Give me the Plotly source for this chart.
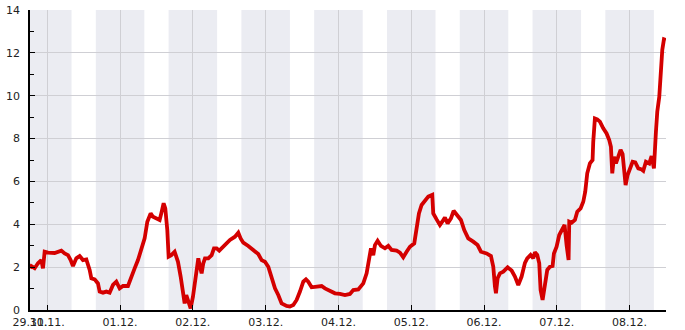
import pandas as pd
import plotly.graph_objects as go

# hours since 30.11. 00:00
hours = [-5.70, -5.26, -4.16, -3.07, -1.97, -1.42, -0.87, 0.23, 2.43, 4.63, 5.72, 6.82, 7.70, 8.47,
         9.57, 10.67, 11.77, 12.87, 13.97, 14.52, 15.62, 16.71, 17.26, 18.36, 19.46, 20.56, 21.66,
         22.76, 23.86, 24.96, 26.60, 27.70, 28.80, 29.90, 31.00, 32.10, 32.98, 34.08, 34.85, 35.94,
         37.04, 37.59, 38.36, 38.91, 39.57, 40.01, 40.89, 41.99, 43.09, 43.97, 44.74, 45.29, 45.83,
         46.38, 47.26, 48.03, 49.02, 49.79, 50.34, 50.89, 51.44, 51.99, 53.09, 54.19, 54.96, 55.84,
         56.71, 58.03, 59.13, 60.23, 61.88, 62.98, 63.75, 64.63, 66.27, 67.92, 69.57, 70.67, 71.77,
         72.87, 73.97, 75.07, 76.16, 77.26, 78.91, 80.01, 81.11, 82.21, 83.31, 84.41, 85.29, 86.05,
         87.15, 88.80, 90.45, 91.55, 93.20, 94.85, 96.50, 98.14, 99.79, 100.89, 102.54, 104.19,
         105.29, 106.06, 106.72, 107.48, 108.03, 108.91, 110.01, 111.33, 112.43, 113.53, 115.18,
         116.28, 117.37, 118.47, 119.57, 121.00, 121.77, 122.54, 123.42, 124.52, 125.62, 126.94,
         127.26, 128.36, 129.46, 130.23, 131.11, 131.99, 133.09, 133.97, 134.96, 136.39, 137.48,
         138.80, 140.45, 141.88, 142.98, 144.85, 146.28, 147.05, 147.60, 147.93, 148.48, 149.25,
         150.35, 151.78, 153.10, 154.19, 155.29, 156.39, 157.49, 158.25, 159.35, 160.23, 160.78,
         161.55, 162.21, 162.65, 163.31, 164.08, 164.85, 165.73, 166.61, 167.05, 167.93, 168.80,
         169.68, 170.56, 171.22, 171.88, 172.10, 172.87, 173.97, 174.74, 175.84, 176.72, 177.37,
         178.03, 178.91, 179.79, 180.01, 180.56, 181.33, 182.21, 183.31, 184.41, 185.29, 185.84,
         186.28, 186.83, 187.49, 188.26, 189.03, 189.69, 190.24, 190.68, 191.34, 192.11, 192.99,
         193.87, 194.86, 195.96, 196.51, 197.38, 198.48, 199.25, 200.02, 200.68, 201.12, 201.78,
         202.22, 202.77, 203.32, 203.98]
values = [1.95, 2.05, 1.95, 2.18, 2.33, 1.94, 2.72, 2.68, 2.66, 2.77, 2.64, 2.56, 2.33, 2.05,
          2.41, 2.52, 2.33, 2.36, 1.87, 1.48, 1.43, 1.24, 0.86, 0.81, 0.86, 0.81, 1.17,
          1.32, 1.01, 1.12, 1.12, 1.48, 1.94, 2.33, 2.80, 3.34, 4.12, 4.51, 4.35, 4.28,
          4.20, 4.51, 4.98, 4.74, 3.73, 2.49, 2.56, 2.72, 2.25, 1.56, 0.78, 0.31, 0.70,
          0.47, 0.08, 0.62, 1.56, 2.41, 2.02, 1.71, 2.18, 2.41, 2.41, 2.56, 2.88, 2.88,
          2.77, 2.95, 3.11, 3.27, 3.42, 3.61, 3.34, 3.14, 2.99, 2.80, 2.61, 2.33, 2.25,
          2.02, 1.56, 1.01, 0.70, 0.31, 0.19, 0.16, 0.23, 0.47, 0.86, 1.32, 1.43, 1.32,
          1.06, 1.09, 1.12, 1.01, 0.89, 0.78, 0.75, 0.70, 0.75, 0.93, 0.96, 1.24,
          1.71, 2.33, 2.88, 2.56, 3.03, 3.23, 2.99, 2.88, 2.99, 2.80, 2.77,
          2.68, 2.46, 2.72, 2.95, 3.11, 3.89, 4.51, 4.90, 5.10, 5.29, 5.37,
          4.51, 4.23, 3.97, 4.12, 4.32, 4.04, 4.28, 4.63, 4.48, 4.20, 3.73,
          3.34, 3.19, 3.03, 2.72, 2.64, 2.52, 2.02, 1.09, 0.78, 1.48, 1.71,
          1.79, 1.99, 1.84, 1.56, 1.17, 1.56, 2.20, 2.41, 2.57, 2.41, 2.69,
          2.57, 2.18, 0.93, 0.47, 1.09, 1.87, 2.02, 2.05, 2.64, 2.95, 3.50,
          3.73, 3.97, 3.03, 2.33, 4.12, 4.07, 4.20, 4.59, 4.74, 5.05, 5.52,
          6.38, 6.84, 7.00, 7.85, 8.94, 8.90, 8.79, 8.48, 8.24, 7.93, 7.62,
          6.38, 7.15, 6.84, 7.23, 7.47, 7.28, 6.61, 5.83, 6.30, 6.61, 6.92,
          6.89, 6.61, 6.56, 6.50, 6.92, 6.84, 7.18, 6.61, 8.32, 9.25, 9.95,
          11.12, 12.13, 12.63, 12.60]

base = pd.Timestamp("2024-11-30 00:00")
start = base + pd.Timedelta(hours=-5.70)
end = base + pd.Timedelta(hours=204.0)
tick_days = ["2024-11-30", "2024-12-01", "2024-12-02", "2024-12-03", "2024-12-04",
             "2024-12-05", "2024-12-06", "2024-12-07", "2024-12-08"]
tick_labels = ["29.11.", "30.11.", "01.12.", "02.12.", "03.12.", "04.12.", "05.12.",
               "06.12.", "07.12.", "08.12."]
y_ticks = [0, 2, 4, 6, 8, 10, 12, 14]

times = [base + pd.Timedelta(hours=h) for h in hours]

fig = go.Figure()
fig.add_trace(go.Scatter(x=times, y=values, mode="lines",
                         line=dict(color="#d40000", width=3.8), hoverinfo="skip"))

# night shading 16:00 - 08:00
shapes = []
band_starts = [start] + [pd.Timestamp(d) - pd.Timedelta(hours=8) for d in tick_days[1:]]
band_ends = [pd.Timestamp(d) + pd.Timedelta(hours=8) for d in tick_days]
for s, e in zip(band_starts, band_ends):
    shapes.append(dict(type="rect", xref="x", yref="paper", x0=s, x1=e, y0=0, y1=1,
                       fillcolor="#ebecf2", line=dict(width=0), layer="below"))

tickvals = [start] + [pd.Timestamp(d) for d in tick_days]

fig.update_layout(
    width=685, height=330,
    margin=dict(l=30, r=19, t=10, b=20),
    paper_bgcolor="white", plot_bgcolor="white",
    showlegend=False,
    shapes=shapes,
    font=dict(family="DejaVu Sans", size=11, color="#222"),
    xaxis=dict(range=[start, end], tickvals=tickvals, ticktext=tick_labels,
               automargin=False,
               showgrid=True, gridcolor="#cfcfd4", gridwidth=1,
               ticks="inside", ticklen=5, tickcolor="black",
               showline=True, linecolor="black", linewidth=1.5,
               zeroline=False, tickangle=0, ticklabelstandoff=1),
    yaxis=dict(range=[0, 14], tickvals=y_ticks, automargin=False,
               showgrid=True, gridcolor="#cfcfd4", gridwidth=1,
               ticks="inside", ticklen=5, tickcolor="black",
               showline=True, linecolor="black", linewidth=1.5,
               zeroline=False, ticklabelstandoff=6,
               minor=dict(dtick=1, ticks="inside", ticklen=4, tickcolor="black", showgrid=False)),
)

fig.write_html("out.html")
